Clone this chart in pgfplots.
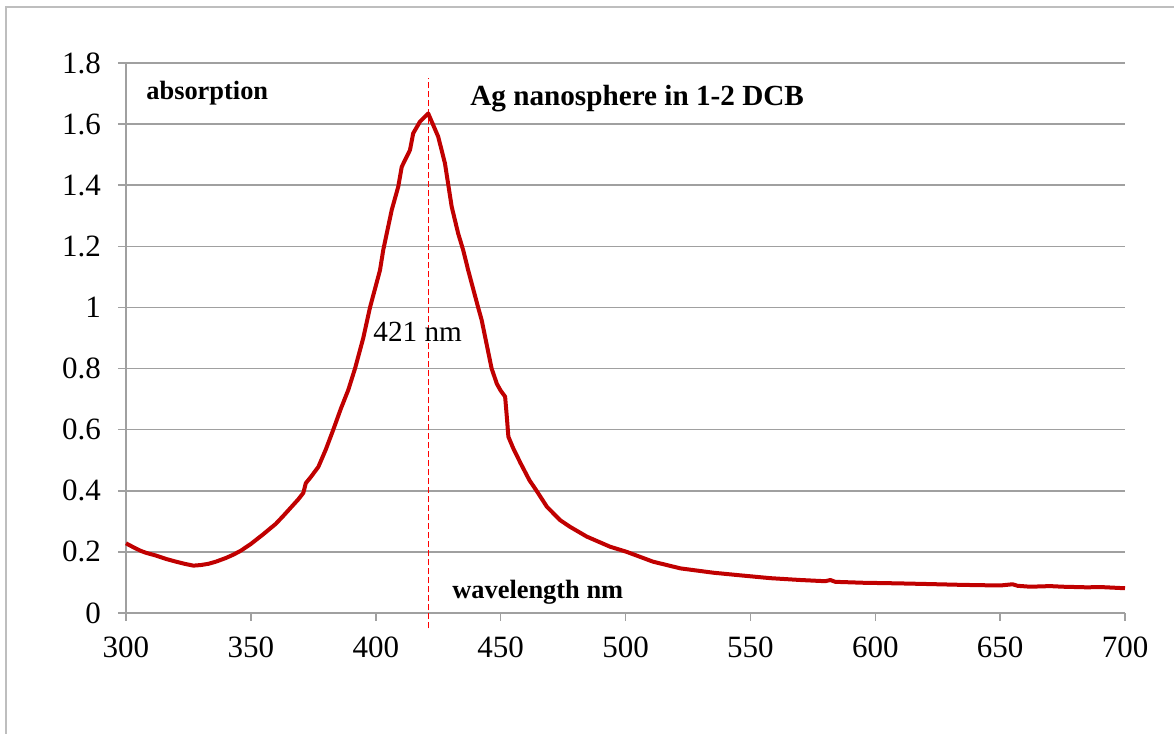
\documentclass[border=0pt]{standalone}
\usepackage{pgfplots}
\pgfplotsset{compat=1.18}
\usepackage{fontspec}
\setmainfont{Liberation Serif}
\definecolor{curvered}{RGB}{192,0,0}
\definecolor{gridgray}{RGB}{160,160,160}
\definecolor{framegray}{RGB}{190,190,190}
\begin{document}
\begin{tikzpicture}
\path[use as bounding box] (0,0) rectangle (587pt,367pt);
\draw[framegray, line width=0.7pt] (3pt,0) -- (3pt,363.5pt) -- (587pt,363.5pt);
\begin{axis}[
  at={(63pt,60.5pt)}, anchor=south west,
  scale only axis, width=499.5pt, height=275pt,
  xmin=300, xmax=700, ymin=0, ymax=1.8,
  axis x line*=bottom, axis y line*=left,
  axis line style={gridgray, line width=0.75pt},
  xtick={300,350,...,700},
  ytick={0,0.2,0.4,0.6,0.8,1,1.2,1.4,1.6,1.8},
  yticklabels={0,0.2,0.4,0.6,0.8,1,1.2,1.4,1.6,1.8},
  xticklabels={300,350,400,450,500,550,600,650,700},
  ymajorgrids, grid style={gridgray, line width=0.75pt},
  tick align=outside, major tick length=4pt,
  tick style={gridgray, line width=0.75pt},
  tick label style={font=\fontsize{15.5}{18}\selectfont, text=black},
  yticklabel style={xshift=-5pt},
  xticklabel style={yshift=-4.5pt},
  /pgf/number format/assume math mode=true,
  clip=false,
]
\addplot[red, line width=0.5pt, dash pattern=on 3pt off 1.5pt] coordinates {(421,-0.05) (421,1.75)};
\addplot[curvered, line width=2pt, line join=round] coordinates {
(300,0.228) (303,0.215) (306,0.203) (308,0.197) (312,0.188) (316,0.177)
(320,0.168) (324,0.160) (327,0.155) (330,0.157) (333,0.161) (336,0.168)
(340,0.180) (343,0.191) (346,0.204) (350,0.226) (355,0.258) (360,0.292)
(363,0.318) (366,0.345) (369,0.372) (371,0.393) (372,0.425) (374,0.445)
(377,0.478) (380,0.535) (383,0.600) (386,0.668) (389,0.730) (391.7,0.800)
(395,0.900) (397.7,1.000) (400,1.070) (401.7,1.122) (403,1.188) (404.4,1.242)
(406.4,1.319) (409,1.395) (410.4,1.460) (411.7,1.482) (413.7,1.515) (415,1.570)
(417.7,1.608) (421,1.635) (425,1.559) (427.7,1.472) (430.4,1.330) (433,1.242)
(435,1.188) (437,1.122) (441,1.000) (442.4,0.959) (446.4,0.800) (448.5,0.750)
(450,0.728) (451.8,0.708) (452.5,0.640) (453.1,0.577) (455,0.540) (458,0.490)
(461.5,0.435) (464.4,0.400) (468.5,0.348) (473.8,0.304) (477.8,0.282) (484.5,0.250)
(493.8,0.217) (500.5,0.200) (511,0.168) (522,0.146) (535,0.132) (545,0.124)
(558,0.114) (570,0.108) (580,0.104) (582,0.108) (584,0.102) (595,0.099)
(609,0.097) (620,0.095) (635,0.092) (650,0.090) (655,0.094) (657,0.089)
(662,0.086) (670,0.088) (675,0.086) (685,0.084) (690,0.085) (700,0.081)
};
\node[anchor=base west, inner sep=0pt, font=\fontsize{13.2}{15}\selectfont\bfseries] at (axis cs:308,1.679) {absorption};
\node[anchor=base west, inner sep=0pt, font=\fontsize{14.6}{17}\selectfont\bfseries] at (axis cs:437.7,1.662) {Ag nanosphere in 1-2 DCB};
\node[anchor=base west, inner sep=0pt, font=\fontsize{13.2}{15}\selectfont\bfseries] at (axis cs:430.5,0.049) {wavelength nm};
\node[anchor=base west, inner sep=0pt, font=\fontsize{14.6}{17}\selectfont] at (axis cs:398.9,0.887) {421 nm};
\end{axis}
\end{tikzpicture}
\end{document}
